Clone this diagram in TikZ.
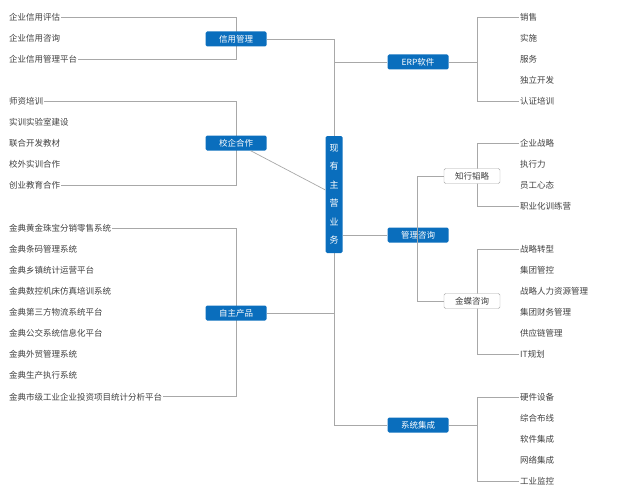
\documentclass[tikz,border=0pt]{standalone}
\usepackage{fontspec}
\setmainfont{Noto Sans CJK SC}
\usetikzlibrary{positioning}
\definecolor{boxblue}{HTML}{0A6EBD}
\definecolor{wire}{HTML}{A8A8A8}
\definecolor{txt}{HTML}{404040}
\tikzset{
  leaf/.style = {inner sep=1pt, font=\fontsize{8.5}{10}\selectfont, text=txt},
  main/.style = {fill=boxblue, text=white, rounded corners=1.5pt, minimum width=61pt,
                 minimum height=15pt, inner sep=1pt, font=\fontsize{8.5}{10}\selectfont},
  sub/.style  = {draw=wire, fill=white, text=txt, rounded corners=1.5pt, minimum width=56pt,
                 minimum height=15pt, inner sep=1pt, font=\fontsize{8.5}{10}\selectfont},
  link/.style = {draw=wire, line width=0.7pt}
}
\begin{document}
\begin{tikzpicture}[x = 1pt, y = -1pt]
\useasboundingbox (0,0) rectangle (623,500);
% hub spine
\coordinate (S1) at (334,39);
\coordinate (S2) at (334,425);
\draw[link] (S1) -- (S2);
\node[main, minimum width=17pt, minimum height=117pt, text width=9pt, align=center,
      font=\fontsize{9}{18.5}\selectfont] (HUB) at (334,194.5) {现\\有\\主\\营\\业\\务};

% left groups
\foreach \name/\y/\items in {
  XY/17/{企业信用评估,企业信用咨询,企业信用管理平台},
  XQ/101/{师资培训,实训实验室建设,联合开发教材,校外实训合作,创业教育合作},
  ZZ/228/{金典黄金珠宝分销零售系统,金典条码管理系统,金典乡镇统计运营平台,金典数控机床仿真培训系统,金典第三方物流系统平台,金典公交系统信息化平台,金典外贸管理系统,金典生产执行系统,金典市级工业企业投资项目统计分析平台}}{
  \foreach \t [count=\i] in \items {
    \node[leaf, anchor=west] (\name\i) at (8,\y+21.1*\i-21.1) {\t};
    \coordinate (\name B\i) at (236,\y+21.1*\i-21.1);
    \xdef\last{\i}
  }
  \draw[link] (\name1.east) -- (\name B1) -- (\name B\last) -- (\name\last.east);
}
\node[main] (XYG) at (236,39) {信用管理};
\node[main] (XQG) at (236,143) {校企合作};
\node[main] (ZZG) at (236,313) {自主产品};
\draw[link] (XYG) -| (S1);
\draw[link] (XQG) -- (HUB);
\draw[link] (ZZG) -- (334,313);

% right groups
\node[main] (ERP) at (418,62) {ERP软件};
\node[main] (GLZ) at (418,235) {管理咨询};
\node[main] (XTJ) at (418,425) {系统集成};
\draw[link] (334,62) -- (ERP);
\draw[link] (HUB.east |- GLZ) -- (GLZ);
\draw[link] (S2) -- (XTJ);

\foreach \name/\y/\items in {
  ER/17/{销售,实施,服务,独立开发,认证培训},
  ZX/143/{企业战略,执行力,员工心态,职业化训练营},
  JD/249/{战略转型,集团管控,战略人力资源管理,集团财务管理,供应链管理,IT规划},
  XT/397/{硬件设备,综合布线,软件集成,网络集成,工业监控}}{
  \foreach \t [count=\i] in \items {
    \node[leaf, anchor=west] (\name\i) at (519,\y+21.1*\i-21.1) {\t};
    \coordinate (\name B\i) at (477,\y+21.1*\i-21.1);
    \xdef\last{\i}
  }
  \draw[link] (\name1.west) -- (\name B1) -- (\name B\last) -- (\name\last.west);
}
\coordinate (ERB) at (477,62);
\coordinate (XTB) at (477,425);
\draw[link] (ERP) -- (ERB);
\draw[link] (XTJ) -- (XTB);

% consulting sub-branches
\coordinate (GB1) at (417,176);
\coordinate (GB2) at (417,301);
\node[sub] (ZXL) at (472,176) {知行韬略};
\node[sub] (JDZ) at (472,301) {金蝶咨询};
\draw[link] (ZXL) -- (GB1) -- (GB2) -- (JDZ);
\end{tikzpicture}
\end{document}
